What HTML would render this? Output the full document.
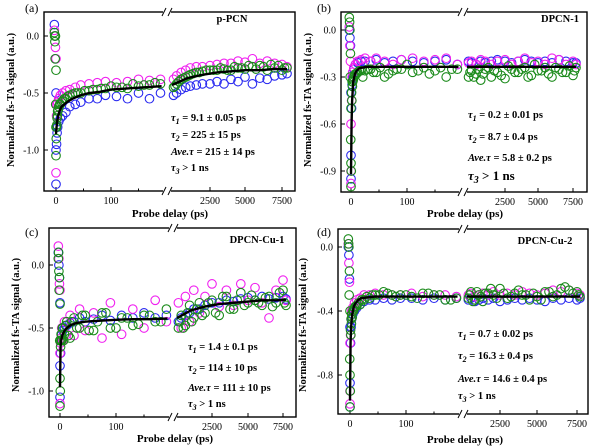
<!DOCTYPE html>
<html><head><meta charset="utf-8"><style>
body{margin:0;background:#fff;}
svg{display:block;font-family:"Liberation Serif",serif;}
</style></head><body>
<svg id="fig" width="600" height="448" viewBox="0 0 600 448" xmlns="http://www.w3.org/2000/svg"></svg>
<script>
// shared sample times
const leftTimes=[-3,-2,-1,0,0,0,1,2,3,5,8,12,18,25,35,45,60,75,90,110,130,150,170,190];
const rightTimes=[100,300,600,900,1200,1600,2000,2500,3000,3500,4000,4500,5000,5500,6000,6500,7000,7500,7700];
const leftTimes2=[-2.5,-1.5,-0.5,0.5,1.5,2.5,4,6.5,10,15,21,30,40,52,67,82,100,120,140,160,180];
const rightTimes2=[200,450,750,1050,1400,1800,2250,2750,3250,3750,4250,4750,5250,5750,6250,6750,7250,7600];
const fitLeftTimes=[0,1,2,4,7,10,15,20,30,45,60,80,100,130,160,192];
const fitRightTimes=[0,500,1000,2000,3000,4000,5000,6000,7000,7700];
const xTickLabelsLeft=[0,100];
const xTickLabelsRight=[2500,5000,7500];

// panel a
const aBlueL=[0.1,0.0,-0.2,-0.5,-1.0,-1.3,-0.95,-0.85,-0.8,-0.75,-0.72,-0.7,-0.67,-0.62,-0.6,-0.58,-0.55,-0.55,-0.52,-0.53,-0.55,-0.5,-0.55,-0.5];
const aMagL=[0.05,0.0,-0.1,-0.2,-0.6,-1.2,-0.7,-0.6,-0.58,-0.55,-0.52,-0.5,-0.48,-0.47,-0.45,-0.43,-0.42,-0.41,-0.4,-0.41,-0.4,-0.38,-0.39,-0.38];
const aGreenL=[0.03,-0.05,0.0,-0.3,-0.8,-1.05,-0.8,-0.72,-0.66,-0.62,-0.6,-0.57,-0.55,-0.52,-0.5,-0.5,-0.48,-0.47,-0.46,-0.45,-0.46,-0.44,-0.43,-0.42];
const aGreen2L=[0.0,-0.2,-0.6,-0.9,-0.78,-0.7,-0.65,-0.6,-0.58,-0.55,-0.53,-0.51,-0.5,-0.48,-0.47,-0.46,-0.44,-0.45,-0.42,-0.43,-0.41];
const aFitL=[-0.86,-0.8,-0.75,-0.7,-0.65,-0.62,-0.6,-0.58,-0.55,-0.52,-0.5,-0.49,-0.47,-0.46,-0.45,-0.44];
const aBlueR=[-0.52,-0.5,-0.47,-0.45,-0.44,-0.43,-0.42,-0.42,-0.4,-0.42,-0.38,-0.4,-0.36,-0.42,-0.37,-0.38,-0.35,-0.34,-0.33];
const aMagR=[-0.38,-0.35,-0.32,-0.3,-0.28,-0.27,-0.27,-0.26,-0.25,-0.24,-0.24,-0.22,-0.23,-0.2,-0.24,-0.22,-0.24,-0.25,-0.27];
const aGreenR=[-0.45,-0.42,-0.38,-0.36,-0.34,-0.32,-0.31,-0.3,-0.3,-0.29,-0.3,-0.28,-0.29,-0.27,-0.26,-0.3,-0.28,-0.3,-0.28];
const aGreen2R=[-0.44,-0.4,-0.37,-0.35,-0.33,-0.32,-0.3,-0.3,-0.28,-0.3,-0.27,-0.28,-0.26,-0.29,-0.27,-0.25,-0.26,-0.28];
const aFitR=[-0.43,-0.4,-0.37,-0.34,-0.32,-0.31,-0.3,-0.3,-0.29,-0.29];
const aYTicks=[0.0,-0.5,-1.0];
// panel b
const bBlueL=[0.0,-0.05,-0.1,-0.4,-0.8,-0.95,-0.5,-0.35,-0.3,-0.25,-0.22,-0.21,-0.2,-0.2,-0.2,-0.19,-0.21,-0.2,-0.19,-0.2,-0.21,-0.2,-0.19,-0.22];
const bMagL=[0.02,-0.1,-0.2,-0.6,-0.9,-0.98,-0.45,-0.3,-0.27,-0.24,-0.22,-0.2,-0.19,-0.18,-0.2,-0.18,-0.2,-0.22,-0.19,-0.18,-0.2,-0.19,-0.18,-0.22];
const bGreenL=[0.08,0.0,-0.15,-0.5,-0.85,-1.0,-0.4,-0.33,-0.33,-0.3,-0.28,-0.27,-0.26,-0.26,-0.25,-0.27,-0.3,-0.26,-0.25,-0.27,-0.24,-0.26,-0.3,-0.25];
const bGreen2L=[0.05,-0.3,-0.7,-0.9,-0.45,-0.36,-0.32,-0.29,-0.28,-0.26,-0.3,-0.25,-0.27,-0.24,-0.28,-0.25,-0.22,-0.26,-0.28,-0.24,-0.25];
const bFitL=[-0.92,-0.6,-0.45,-0.33,-0.28,-0.26,-0.245,-0.24,-0.235,-0.235,-0.235,-0.235,-0.235,-0.235,-0.235,-0.235];
const bBlueR=[-0.2,-0.21,-0.22,-0.2,-0.21,-0.2,-0.19,-0.2,-0.21,-0.2,-0.19,-0.2,-0.21,-0.2,-0.21,-0.19,-0.2,-0.21,-0.21];
const bMagR=[-0.21,-0.2,-0.22,-0.19,-0.2,-0.22,-0.2,-0.19,-0.22,-0.2,-0.18,-0.21,-0.2,-0.22,-0.18,-0.19,-0.22,-0.2,-0.22];
const bGreenR=[-0.3,-0.26,-0.28,-0.32,-0.25,-0.3,-0.27,-0.31,-0.25,-0.27,-0.24,-0.29,-0.26,-0.24,-0.3,-0.25,-0.27,-0.29,-0.24];
const bGreen2R=[-0.27,-0.3,-0.25,-0.28,-0.24,-0.26,-0.29,-0.23,-0.27,-0.25,-0.3,-0.22,-0.26,-0.28,-0.24,-0.27,-0.23,-0.26];
const bFitR=[-0.235,-0.235,-0.235,-0.235,-0.235,-0.235,-0.235,-0.235,-0.235,-0.235];
const bYTicks=[0.0,-0.3,-0.6,-0.9];
// panel c
const cBlueL=[0.1,0.0,-0.1,-0.3,-0.8,-1.05,-0.7,-0.6,-0.55,-0.52,-0.5,-0.48,-0.46,-0.45,-0.42,-0.45,-0.43,-0.4,-0.44,-0.4,-0.42,-0.38,-0.42,-0.4];
const cMagL=[0.15,0.05,-0.15,-0.2,-0.7,-1.1,-0.62,-0.58,-0.5,-0.6,-0.45,-0.55,-0.4,-0.56,-0.35,-0.52,-0.38,-0.58,-0.3,-0.55,-0.35,-0.5,-0.28,-0.45];
const cGreenL=[0.05,-0.05,-0.1,-0.31,-0.9,-1.12,-0.65,-0.55,-0.6,-0.5,-0.55,-0.45,-0.58,-0.42,-0.5,-0.4,-0.52,-0.38,-0.5,-0.42,-0.48,-0.4,-0.45,-0.35];
const cGreen2L=[0.1,-0.2,-0.6,-1.0,-0.6,-0.55,-0.5,-0.6,-0.48,-0.56,-0.45,-0.5,-0.4,-0.52,-0.45,-0.38,-0.5,-0.42,-0.47,-0.4,-0.45];
const cFitL=[-0.97,-0.65,-0.6,-0.56,-0.53,-0.51,-0.49,-0.475,-0.46,-0.45,-0.445,-0.44,-0.435,-0.43,-0.43,-0.425];
const cBlueR=[-0.45,-0.42,-0.4,-0.38,-0.35,-0.35,-0.32,-0.3,-0.3,-0.28,-0.29,-0.27,-0.26,-0.28,-0.25,-0.27,-0.26,-0.25,-0.27];
const cMagR=[-0.3,-0.5,-0.25,-0.45,-0.2,-0.38,-0.25,-0.15,-0.33,-0.2,-0.32,-0.15,-0.28,-0.18,-0.3,-0.42,-0.2,-0.12,-0.28];
const cGreenR=[-0.5,-0.4,-0.48,-0.32,-0.42,-0.3,-0.38,-0.28,-0.4,-0.25,-0.35,-0.22,-0.3,-0.28,-0.32,-0.25,-0.3,-0.2,-0.32];
const cGreen2R=[-0.45,-0.5,-0.38,-0.45,-0.35,-0.4,-0.3,-0.38,-0.25,-0.35,-0.28,-0.32,-0.24,-0.3,-0.26,-0.33,-0.22,-0.3];
const cFitR=[-0.42,-0.39,-0.36,-0.33,-0.31,-0.3,-0.29,-0.28,-0.28,-0.275];
const cYTicks=[0.0,-0.5,-1.0];
// panel d
const dBlueL=[0.0,-0.05,-0.2,-0.5,-0.85,-1.0,-0.6,-0.5,-0.45,-0.42,-0.4,-0.38,-0.36,-0.34,-0.33,-0.33,-0.32,-0.33,-0.32,-0.32,-0.33,-0.32,-0.33,-0.32];
const dMagL=[0.02,-0.1,-0.22,-0.6,-0.9,-0.98,-0.55,-0.45,-0.4,-0.38,-0.35,-0.33,-0.32,-0.3,-0.3,-0.29,-0.3,-0.3,-0.3,-0.29,-0.31,-0.3,-0.3,-0.31];
const dGreenL=[0.05,0.0,-0.15,-0.4,-0.8,-1.0,-0.52,-0.45,-0.42,-0.4,-0.38,-0.37,-0.36,-0.33,-0.32,-0.3,-0.28,-0.3,-0.3,-0.31,-0.29,-0.3,-0.33,-0.32];
const dGreen2L=[0.02,-0.3,-0.7,-0.9,-0.55,-0.48,-0.44,-0.4,-0.37,-0.35,-0.33,-0.31,-0.3,-0.3,-0.29,-0.31,-0.3,-0.32,-0.29,-0.3,-0.33];
const dFitL=[-0.96,-0.6,-0.5,-0.42,-0.37,-0.35,-0.33,-0.32,-0.315,-0.31,-0.31,-0.31,-0.31,-0.31,-0.31,-0.31];
const dBlueR=[-0.33,-0.32,-0.34,-0.33,-0.32,-0.33,-0.32,-0.34,-0.33,-0.32,-0.33,-0.32,-0.33,-0.34,-0.32,-0.33,-0.32,-0.33,-0.32];
const dMagR=[-0.3,-0.29,-0.31,-0.3,-0.29,-0.3,-0.28,-0.3,-0.29,-0.3,-0.28,-0.29,-0.3,-0.29,-0.27,-0.28,-0.27,-0.29,-0.3];
const dGreenR=[-0.32,-0.28,-0.33,-0.3,-0.34,-0.29,-0.3,-0.26,-0.32,-0.29,-0.3,-0.33,-0.31,-0.28,-0.31,-0.26,-0.27,-0.28,-0.31];
const dGreen2R=[-0.3,-0.34,-0.28,-0.31,-0.29,-0.26,-0.32,-0.29,-0.31,-0.27,-0.3,-0.29,-0.33,-0.28,-0.3,-0.25,-0.29,-0.3];
const dFitR=[-0.31,-0.31,-0.31,-0.31,-0.31,-0.31,-0.31,-0.31,-0.31,-0.31];
const dYTicks=[0.0,-0.4,-0.8];

const NS="http://www.w3.org/2000/svg";
const svg=document.getElementById('fig');
function mk(tag,attrs,parent){const e=document.createElementNS(NS,tag);for(const k in attrs)e.setAttribute(k,attrs[k]);(parent||svg).appendChild(e);return e;}

const panels=[
 {id:'a',name:'p-PCN',frame:[44,12,295,191],y0:[0,36],y1:[-0.5,93],x0:56,x100:111,brk:167,r:[[0,172],[2500,210],[5000,245],[7500,282],[7700,287]],
  blue:[aBlueL,aBlueR],mag:[aMagL,aMagR],green:[aGreenL,aGreenR],green2:[aGreen2L,aGreen2R],fit:[aFitL,aFitR],yt:aYTicks,
  lab:[25,12],ytitle:[14,100],xtitle:[170,217],tlx:171,tly:[121,138,155,171],t3big:false,tau:['9.1 ± 0.05 ps','225 ± 15 ps','215 ± 14 ps'],nameXY:[232,22]},
 {id:'b',name:'DPCN-1',frame:[341,12,587,192],y0:[0,30],y1:[-0.3,77],x0:351,x100:407,brk:463,r:[[0,467],[2500,505],[5000,538],[7500,573],[7700,576]],
  blue:[bBlueL,bBlueR],mag:[bMagL,bMagR],green:[bGreenL,bGreenR],green2:[bGreen2L,bGreen2R],fit:[bFitL,bFitR],yt:bYTicks,
  lab:[317,12],ytitle:[311,100],xtitle:[465,217],tlx:468,tly:[118,140,161,180],t3big:true,tau:['0.2 ± 0.01 ps','8.7 ± 0.4 ps','5.8 ± 0.2 ps'],nameXY:[560,22]},
 {id:'c',name:'DPCN-Cu-1',frame:[49,228,296,417],y0:[0,265],y1:[-0.5,328],x0:60,x100:116,brk:173,r:[[0,177],[2500,212],[5000,248],[7500,283],[7700,286]],
  blue:[cBlueL,cBlueR],mag:[cMagL,cMagR],green:[cGreenL,cGreenR],green2:[cGreen2L,cGreen2R],fit:[cFitL,cFitR],yt:cYTicks,
  lab:[25,236],ytitle:[19,325],xtitle:[175,442],tlx:188,tly:[350,371,391,407],t3big:false,tau:['1.4 ± 0.1 ps','114 ± 10 ps','111 ± 10 ps'],nameXY:[257,243]},
 {id:'d',name:'DPCN-Cu-2',frame:[338,229,588,414],y0:[0,247],y1:[-0.4,311],x0:350,x100:406,brk:463,r:[[0,467],[2500,500],[5000,537],[7500,577],[7700,580]],
  blue:[dBlueL,dBlueR],mag:[dMagL,dMagR],green:[dGreenL,dGreenR],green2:[dGreen2L,dGreen2R],fit:[dFitL,dFitR],yt:dYTicks,
  lab:[317,236],ytitle:[306,325],xtitle:[465,443],tlx:458,tly:[337,359,382,399],t3big:false,tau:['0.7 ± 0.02 ps','16.3 ± 0.4 ps','14.6 ± 0.4 ps'],nameXY:[545,244]}
];

panels.forEach(p=>{
 const g=mk('g',{});
 
 
 const [L,T,R,B]=p.frame;
 const ys=v=>p.y0[1]+(v-p.y0[0])*(p.y1[1]-p.y0[1])/(p.y1[0]-p.y0[0]);
 const xl=t=>Math.min(p.brk-3,p.x0+t*(p.x100-p.x0)/100);
 const xr=t=>{const a=p.r;for(let i=0;i<a.length-1;i++){if(t<=a[i+1][0])return a[i][1]+(t-a[i][0])*(a[i+1][1]-a[i][1])/(a[i+1][0]-a[i][0]);}return a[a.length-1][1];};
 const fr=mk('rect',{x:L,y:T,width:R-L,height:B-T,fill:'none',stroke:'#000','stroke-width':1.4},g);
 
 
 p.yt.forEach(v=>{const y=ys(v);mk('line',{x1:L,x2:L+4,y1:y,y2:y,stroke:'#000'},g);
  const t=mk('text',{x:L-5,y:y+3.5,'font-size':10,'text-anchor':'end'},g);t.textContent=v.toFixed(1);
  
  });
 xTickLabelsLeft.forEach(v=>{const x=xl(v);mk('line',{x1:x,x2:x,y1:B,y2:B-4,stroke:'#000'},g);
  const t=mk('text',{x:x,y:B+13,'font-size':10,'text-anchor':'middle'},g);t.textContent=v;
  
  });
 [50,150].forEach(v=>{const x=xl(v);mk('line',{x1:x,x2:x,y1:B,y2:B-2.5,stroke:'#000'},g);});
 xTickLabelsRight.forEach(v=>{const x=xr(v);mk('line',{x1:x,x2:x,y1:B,y2:B-4,stroke:'#000'},g);
  const t=mk('text',{x:x,y:B+13,'font-size':10,'text-anchor':'middle'},g);t.textContent=v;
  
  });
 [T,B].forEach(y=>{mk('rect',{x:p.brk-4,y:y-3,width:8,height:6,fill:'#fff'},g);
  mk('line',{x1:p.brk-5,y1:y+4,x2:p.brk-1,y2:y-4,stroke:'#000'},g);
  mk('line',{x1:p.brk+1,y1:y+4,x2:p.brk+5,y2:y-4,stroke:'#000'},g);});
 const series=[['blue','#2a2af0',p.blue,leftTimes,rightTimes],['magenta','#f020f0',p.mag,leftTimes,rightTimes],['green','#1a8a1a',p.green,leftTimes,rightTimes],['green','#1a8a1a',p.green2,leftTimes2,rightTimes2]];
 series.forEach(([nm,col,arr,lt,rt])=>{
  arr[0].forEach((v,i)=>{const c=mk('circle',{cx:xl(lt[i]),cy:ys(v),r:4.3,fill:'none',stroke:col,'stroke-width':1.1},g);
   
   });
  arr[1].forEach((v,i)=>{const c=mk('circle',{cx:xr(rt[i]),cy:ys(v),r:4.3,fill:'none',stroke:col,'stroke-width':1.1},g);
   
   });
 });
 const fl=mk('polyline',{points:p.fit[0].map((v,i)=>xl(fitLeftTimes[i])+','+ys(v)).join(' '),fill:'none',stroke:'#000','stroke-width':2.4},g);
 
 
 const fr2=mk('polyline',{points:p.fit[1].map((v,i)=>xr(fitRightTimes[i])+','+ys(v)).join(' '),fill:'none',stroke:'#000','stroke-width':2.4},g);
 
 
 const pl=mk('text',{x:p.lab[0],y:p.lab[1],'font-size':12},g);pl.textContent='('+p.id+')';
 
 
 const yt=mk('text',{x:0,y:0,'font-size':10.5,'font-weight':'bold','text-anchor':'middle',transform:`translate(${p.ytitle[0]},${p.ytitle[1]}) rotate(-90)`},g);
 yt.textContent='Normalized fs-TA signal (a.u.)';
 
 
 const xt=mk('text',{x:p.xtitle[0],y:p.xtitle[1],'font-size':11,'font-weight':'bold','text-anchor':'middle'},g);
 xt.textContent='Probe delay (ps)';
 
 
 const sn=mk('text',{x:p.nameXY[0],y:p.nameXY[1],'font-size':10.5,'font-weight':'bold','text-anchor':'middle'},g);
 sn.textContent=p.name;
 
 
 const lines=[['τ','1',' = '+p.tau[0]],['τ','2',' = '+p.tau[1]],['Ave.τ','',' = '+p.tau[2]],['τ','3',' > 1 ns']];
 lines.forEach((ln,i)=>{
  const big=(i===3&&p.t3big);
  const t=mk('text',{x:p.tlx,y:p.tly[i],'font-size':big?13:10.5,'font-weight':'bold'},g);
  
  
  const s1=mk('tspan',{'font-style':'italic'},t);s1.textContent=ln[0];
  if(ln[1]){const s2=mk('tspan',{'font-style':'italic','font-size':big?10:8,dy:3},t);s2.textContent=ln[1];
   const s3=mk('tspan',{dy:-3},t);s3.textContent=ln[2];}
  else{const s3=mk('tspan',{},t);s3.textContent=ln[2];}
 });
});
</script>
</body></html>
